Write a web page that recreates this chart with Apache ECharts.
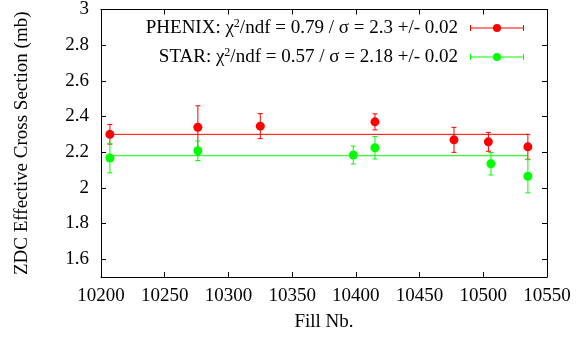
<!DOCTYPE html>
<html>
<head>
<meta charset="utf-8">
<script src="https://cdn.jsdelivr.net/npm/echarts@6/dist/echarts.min.js"></script>
<style>html,body{margin:0;padding:0;background:#fff}#c{width:582px;height:337px}</style>
</head>
<body>
<div id="c"></div>
<script>
// Data
var phenixFill  = [10207, 10276, 10325, 10415, 10477, 10504, 10535];
var phenixSigma = [2.300, 2.340, 2.346, 2.370, 2.269, 2.258, 2.230];
var phenixErr   = [0.055, 0.120, 0.070, 0.045, 0.070, 0.053, 0.070];

var starFill  = [10207, 10276, 10398, 10415, 10506, 10535];
var starSigma = [2.167, 2.208, 2.184, 2.225, 2.135, 2.065];
var starErr   = [0.083, 0.055, 0.050, 0.063, 0.063, 0.093];

var fitRange  = [10207, 10535];
var phenixFit = 2.3;
var starFit   = 2.18;

var xTicks = [10200, 10250, 10300, 10350, 10400, 10450, 10500, 10550];
var yTicks = [1.6, 1.8, 2.0, 2.2, 2.4, 2.6, 2.8, 3.0];

var legendText = {
  'PHENIX': 'PHENIX: \u03c7{sup|2}/ndf = 0.79 / \u03c3 = 2.3 +/- 0.02',
  'STAR': 'STAR: \u03c7{sup|2}/ndf = 0.57 / \u03c3 = 2.18 +/- 0.02'
};

function pts(xs, ys) { return xs.map(function (x, i) { return [x, ys[i]]; }); }
function errPts(xs, ys, es) { return xs.map(function (x, i) { return [x, ys[i], es[i]]; }); }

function errRender(color) {
  return function (params, api) {
    var x = api.value(0), y = api.value(1), e = api.value(2);
    var top = api.coord([x, y + e]);
    var bot = api.coord([x, y - e]);
    var cw = 2.5;
    var st = { stroke: color, lineWidth: 1 };
    return {
      type: 'group',
      children: [
        { type: 'line', shape: { x1: top[0], y1: top[1], x2: bot[0], y2: bot[1] }, style: st },
        { type: 'line', shape: { x1: top[0] - cw, y1: top[1], x2: top[0] + cw, y2: top[1] }, style: st },
        { type: 'line', shape: { x1: bot[0] - cw, y1: bot[1], x2: bot[0] + cw, y2: bot[1] }, style: st }
      ]
    };
  };
}

var FONT = 'Liberation Serif';
var FS = 19;
var iconPath = 'path://M0,1 L1,1 L1,3.5 L53,3.5 L53,1 L54,1 L54,7 L53,7 L53,4.5 L1,4.5 L1,7 L0,7 Z M23,4 A4,4 0 1,1 31,4 A4,4 0 1,1 23,4 Z';

var chart = echarts.init(document.getElementById('c'), null, { renderer: 'canvas' });
var axisCommonX = {
  type: 'value', min: 10200, max: 10550,
  axisLine: { show: true, lineStyle: { color: '#000', width: 1 } },
  axisTick: { show: true, inside: true, length: 5, customValues: xTicks, lineStyle: { color: '#000' } },
  splitLine: { show: false }
};
var axisCommonY = {
  type: 'value', min: 1.5, max: 3.0,
  axisLine: { show: true, lineStyle: { color: '#000', width: 1 } },
  axisTick: { show: true, inside: true, length: 5, customValues: yTicks, lineStyle: { color: '#000' } },
  splitLine: { show: false }
};

chart.setOption({
  animation: false,
  backgroundColor: '#fff',
  textStyle: { fontFamily: FONT },
  grid: { left: 101, right: 35, top: 8, bottom: 60 },
  xAxis: [
    Object.assign({}, axisCommonX, {
      position: 'bottom',
      name: 'Fill Nb.', nameLocation: 'middle', nameGap: 36,
      nameTextStyle: { fontFamily: FONT, fontSize: FS, color: '#000' },
      axisLabel: { show: true, customValues: xTicks, margin: 10, fontFamily: FONT, fontSize: FS, color: '#000',
        formatter: function (v) { return String(v); } }
    }),
    Object.assign({}, axisCommonX, { position: 'top', axisLabel: { show: false } })
  ],
  yAxis: [
    Object.assign({}, axisCommonY, {
      position: 'left',
      name: 'ZDC Effective Cross Section (mb)', nameLocation: 'middle', nameGap: 69,
      nameTextStyle: { fontFamily: FONT, fontSize: FS, color: '#000' },
      axisLabel: { show: true, customValues: yTicks, margin: 12, fontFamily: FONT, fontSize: FS, color: '#000' }
    }),
    Object.assign({}, axisCommonY, { position: 'right', axisLabel: { show: false } })
  ],
  legend: {
    orient: 'vertical',
    right: 58, top: 18, padding: 0,
    align: 'right',
    itemWidth: 54, itemHeight: 8, itemGap: 9,
    icon: iconPath,
    data: ['PHENIX', 'STAR'],
    formatter: function (name) { return legendText[name] + '{gap|}'; },
    textStyle: {
      fontFamily: FONT, fontSize: FS, color: '#000', lineHeight: 20,
      rich: {
        sup: { fontFamily: FONT, fontSize: 12, lineHeight: 20, verticalAlign: 'top', color: '#000' },
        gap: { width: 7 }
      }
    },
    selectedMode: false
  },
  series: [
    { type: 'line', name: 'PHENIX fit', data: pts(fitRange, [phenixFit, phenixFit]), showSymbol: false, symbol: 'none',
      lineStyle: { color: '#ff0000', width: 1 }, z: 1 },
    { type: 'line', name: 'STAR fit', data: pts(fitRange, [starFit, starFit]), showSymbol: false, symbol: 'none',
      lineStyle: { color: '#00ff00', width: 1 }, z: 1 },
    { type: 'custom', name: 'PHENIX err', data: errPts(phenixFill, phenixSigma, phenixErr), renderItem: errRender('#ff0000'),
      encode: { x: 0, y: 1 }, z: 2 },
    { type: 'custom', name: 'STAR err', data: errPts(starFill, starSigma, starErr), renderItem: errRender('#00ff00'),
      encode: { x: 0, y: 1 }, z: 2 },
    { type: 'scatter', name: 'PHENIX', data: pts(phenixFill, phenixSigma), symbol: 'circle', symbolSize: 9,
      itemStyle: { color: '#ff0000', opacity: 1 }, z: 3 },
    { type: 'scatter', name: 'STAR', data: pts(starFill, starSigma), symbol: 'circle', symbolSize: 9,
      itemStyle: { color: '#00ff00', opacity: 1 }, z: 3 }
  ]
});
</script>
</body>
</html>
